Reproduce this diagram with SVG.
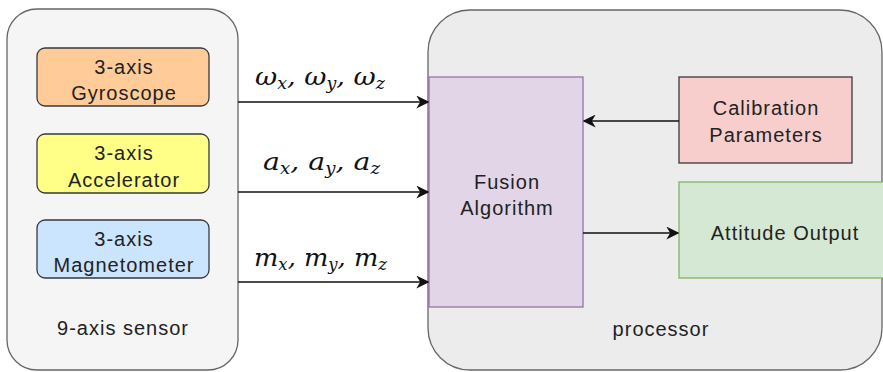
<svg xmlns="http://www.w3.org/2000/svg" width="883" height="372" viewBox="0 0 883 372">
<style>
.lbl{font-family:"Liberation Sans",Arial,sans-serif;font-size:20px;letter-spacing:1px;fill:#222;text-anchor:middle}
.math{font-family:"DejaVu Serif","Liberation Serif",serif;font-style:italic;font-size:25px;fill:#111}
.sub{font-size:16px}
.box{stroke:#36393d;stroke-width:1.3}
.edge{stroke:#111;stroke-width:1.6;fill:none}
</style>
<defs>
<marker id="arr" viewBox="0 0 10 10" refX="9" refY="5" markerWidth="13" markerHeight="13" orient="auto" markerUnits="userSpaceOnUse">
<path d="M0,0 L10,5 L0,10 L3,5 Z" fill="#111"/>
</marker>
</defs>
<rect width="883" height="372" fill="#ffffff"/>
<g id="sensor">
<rect x="7" y="9" width="231" height="361" rx="30" fill="#f5f5f5" stroke="#666" stroke-width="1.3"/>
<text class="lbl" x="123" y="335">9-axis sensor</text>
</g>
<g id="processor">
<rect x="428" y="10" width="454" height="360" rx="42" fill="#ececec" stroke="#666" stroke-width="1.3"/>
<text class="lbl" x="661" y="336">processor</text>
</g>
<g id="gyroscope">
<rect class="box" x="37" y="48" width="172" height="58" rx="8" fill="#ffcc99"/>
<text class="lbl" x="124" y="74">3-axis</text>
<text class="lbl" x="124" y="100">Gyroscope</text>
</g>
<g id="accelerator">
<rect class="box" x="37" y="134" width="172" height="59" rx="8" fill="#ffff88"/>
<text class="lbl" x="124" y="160">3-axis</text>
<text class="lbl" x="124" y="187">Accelerator</text>
</g>
<g id="magnetometer">
<rect class="box" x="37" y="220" width="172" height="58" rx="8" fill="#cce5ff"/>
<text class="lbl" x="124" y="246">3-axis</text>
<text class="lbl" x="124" y="272">Magnetometer</text>
</g>
<g id="fusion">
<rect x="429" y="77" width="154" height="230" fill="#e1d5e7" stroke="#9673a6" stroke-width="1.3"/>
<text class="lbl" x="507" y="189">Fusion</text>
<text class="lbl" x="507" y="215">Algorithm</text>
</g>
<g id="calibration">
<rect class="box" x="679" y="77" width="173" height="86" fill="#f8cecc"/>
<text class="lbl" x="766" y="115">Calibration</text>
<text class="lbl" x="766" y="142">Parameters</text>
</g>
<g id="attitude">
<rect x="679" y="182" width="210" height="96" fill="#d5e8d4" stroke="#82b366" stroke-width="1.3"/>
<text class="lbl" x="785" y="240">Attitude Output</text>
</g>
<g id="connectors">
<line class="edge" x1="238" y1="102" x2="428" y2="102" marker-end="url(#arr)"/>
<line class="edge" x1="238" y1="192" x2="428" y2="192" marker-end="url(#arr)"/>
<line class="edge" x1="238" y1="282" x2="428" y2="282" marker-end="url(#arr)"/>
<line class="edge" x1="679" y1="121" x2="584" y2="121" marker-end="url(#arr)"/>
<line class="edge" x1="583" y1="233" x2="678" y2="233" marker-end="url(#arr)"/>
<text class="math" x="255" y="85" textLength="130" lengthAdjust="spacingAndGlyphs">ω<tspan class="sub" dy="4">x</tspan><tspan dy="-4">, ω</tspan><tspan class="sub" dy="4">y</tspan><tspan dy="-4">, ω</tspan><tspan class="sub" dy="4">z</tspan></text>
<text class="math" x="263" y="170" textLength="117" lengthAdjust="spacingAndGlyphs">a<tspan class="sub" dy="4">x</tspan><tspan dy="-4">, a</tspan><tspan class="sub" dy="4">y</tspan><tspan dy="-4">, a</tspan><tspan class="sub" dy="4">z</tspan></text>
<text class="math" x="254" y="266" textLength="133" lengthAdjust="spacingAndGlyphs">m<tspan class="sub" dy="4">x</tspan><tspan dy="-4">, m</tspan><tspan class="sub" dy="4">y</tspan><tspan dy="-4">, m</tspan><tspan class="sub" dy="4">z</tspan></text>
</g>
</svg>
